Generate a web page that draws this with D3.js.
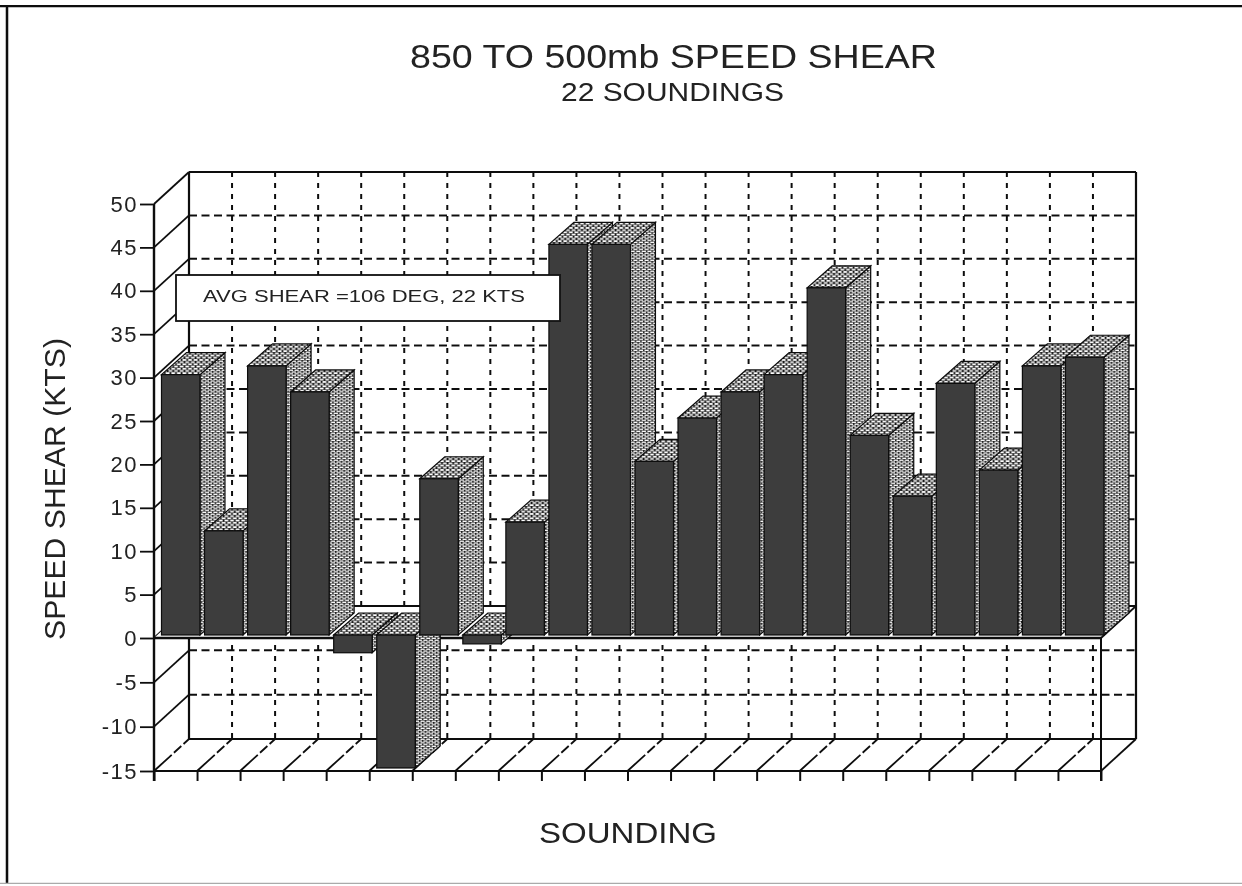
<!DOCTYPE html>
<html><head><meta charset="utf-8">
<script src="https://cdn.jsdelivr.net/npm/d3@7/dist/d3.min.js"></script>
<style>html,body{margin:0;background:#fff}svg{display:block}text{font-family:"Liberation Sans",Arial,sans-serif;fill:#222}</style>
</head><body><div id="chart"></div>
<script>
const soundings = d3.range(1,23);
const shear = [30,12,31,28,-2,-15,18,-1,13,45,45,20,25,28,30,40,23,16,29,19,31,32];
const yTicks = [50,45,40,35,30,25,20,15,10,5,0,-5,-10,-15];
const titleText = "850 TO 500mb SPEED SHEAR";
const subtitleText = "22 SOUNDINGS";
const yLabel = "SPEED SHEAR (KTS)";
const xLabel = "SOUNDING";
const note = "AVG SHEAR =106 DEG, 22 KTS";

const W=1242,H=886, left=154,right=1101, floorY=771, topY=204, zeroY=638;
const dx=35, dy=-32, bdx=25, bdy=-22, lift=3, barOff=7.5, barW=38.5;
const x=d3.scaleBand().domain(soundings).range([left,right]);
const y=d3.scaleLinear().domain([-15,0,50]).range([floorY,zeroY,topY]);

const svg=d3.select("#chart").append("svg").attr("width",W).attr("height",H);
const defs=svg.append("defs");
defs.append("filter").attr("id","scan").attr("x",0).attr("y",0).attr("width",1).attr("height",1)
  .append("feGaussianBlur").attr("stdDeviation",0.45);
function pat(id,w,h,rw,rh){
  const p=defs.append("pattern").attr("id",id).attr("patternUnits","userSpaceOnUse").attr("width",w).attr("height",h);
  p.append("rect").attr("width",w).attr("height",h).attr("fill","#141414");
  [[0.5,0.5],[0.5+w/2,0.5+h/2],[0.5-w/2,0.5+h/2]].forEach(d=>
    p.append("rect").attr("x",d[0]).attr("y",d[1]).attr("width",rw).attr("height",rh).attr("fill","#fff"));
}
pat("side",5.6,3.6,4.2,1.3);
pat("top",5.6,4.4,3.8,1.7);

const g=svg.append("g").attr("filter","url(#scan)");
const line=(a,b,c,d,sw=2,dash=null,col="#111")=>g.append("line").attr("x1",a).attr("y1",b).attr("x2",c).attr("y2",d)
  .attr("stroke",col).attr("stroke-width",sw).attr("stroke-dasharray",dash);

// page frame
line(7,5,7,883,2.5); line(0,6,W,6,2.5); line(0,884,W,884,2.5,null,"#aaa");

// back wall grid
yTicks.forEach(v=>{
  if(v===50||v===-15||v===0) return;
  line(left+dx,y(v)+dy,right+dx,y(v)+dy,2,"8 4.5");
});
soundings.slice(1).forEach(s=>line(x(s)+dx,topY+dy,x(s)+dx,floorY+dy,2,"5 6"));

// left wall diagonals
yTicks.forEach(v=>{ if(v!==-15) line(left,y(v),left+dx,y(v)+dy,1.8); });
// floor lines
soundings.slice(1).concat([null]).forEach(s=>{
  const a=s===null?right:x(s);
  line(a,floorY,a+dx,floorY+dy,1.8,s===null?null:"24 3 10 3");
});
line(left,floorY,left+dx,floorY+dy,1.8,"24 3 10 3");

// walls
line(left+dx,topY+dy,right+dx,topY+dy,2.2);
line(left+dx,topY+dy,left+dx,floorY+dy,2.2);
line(right+dx,topY+dy,right+dx,floorY+dy,2.2);
line(left+dx,floorY+dy,right+dx,floorY+dy,2);

// zero plane
g.append("polygon").attr("fill","#fff").attr("stroke","none")
  .attr("points",[[left,zeroY],[right,zeroY],[right+dx,zeroY+dy],[left+dx,zeroY+dy]].join(" "));
line(left+dx,zeroY+dy,right+dx,zeroY+dy,1.8);
line(right,zeroY,right+dx,zeroY+dy,1.8);

// front frame + axes
line(left,topY,left,781,2.4);
line(left,floorY,right,floorY,2.2);
line(right,zeroY,right,781,2);
line(left,zeroY,right,zeroY,2.4);

const axY=g.append("g").attr("transform",`translate(${left},0)`)
  .call(d3.axisLeft(y).tickValues(yTicks).tickSize(14).tickPadding(2).tickFormat(d=>String(d)));
axY.select(".domain").remove();
axY.selectAll("line").attr("stroke","#111").attr("stroke-width",1.8);
axY.selectAll("text").attr("font-size",22).attr("letter-spacing",1.5).attr("fill","#222");

const axX=g.append("g").attr("transform",`translate(0,${floorY})`)
  .call(d3.axisBottom(d3.scalePoint().domain(d3.range(23)).range([left,right])).tickSize(10).tickFormat(""));
axX.select(".domain").remove();
axX.selectAll("line").attr("stroke","#111").attr("stroke-width",2);

// bars
const bars=g.append("g").selectAll("g").data(shear).join("g");
const px=i=>x(soundings[i])+barOff;
const t0=v=>y(Math.max(v,0))-lift, t1=v=>y(Math.min(v,0))-lift;
const stroke={stroke:"#0c0c0c","stroke-width":1.2,"stroke-linejoin":"miter"};
function styled(sel){Object.entries(stroke).forEach(([k,v])=>sel.attr(k,v));return sel;}
styled(bars.append("polygon")).attr("fill","url(#side)").attr("points",(v,i)=>{
  const r=px(i)+barW; return [[r,t0(v)],[r+bdx,t0(v)+bdy],[r+bdx,t1(v)+bdy],[r,t1(v)]].join(" ");});
styled(bars.append("polygon")).attr("fill","url(#top)").attr("points",(v,i)=>{
  const l=px(i),r=l+barW,t=t0(v); return [[l,t],[r,t],[r+bdx,t+bdy],[l+bdx,t+bdy]].join(" ");});
styled(bars.append("rect")).attr("fill","#3c3c3c")
  .attr("x",(v,i)=>px(i)).attr("width",barW).attr("y",v=>t0(v)).attr("height",v=>t1(v)-t0(v));

// note box
g.append("rect").attr("x",176).attr("y",275).attr("width",384).attr("height",46)
  .attr("fill","#fff").attr("stroke","#111").attr("stroke-width",1.8);
const fit=(sel,len)=>sel.attr("textLength",len).attr("lengthAdjust","spacingAndGlyphs");
fit(g.append("text").attr("x",203).attr("y",302).attr("font-size",16).text(note),322);

// titles
fit(g.append("text").attr("x",410).attr("y",68).attr("font-size",33).text(titleText),527);
fit(g.append("text").attr("x",561).attr("y",101).attr("font-size",26).text(subtitleText),223);
fit(g.append("text").attr("transform","translate(65,640) rotate(-90)").attr("font-size",30).text(yLabel),302);
fit(g.append("text").attr("x",539).attr("y",843).attr("font-size",30).text(xLabel),178);
</script></body></html>
